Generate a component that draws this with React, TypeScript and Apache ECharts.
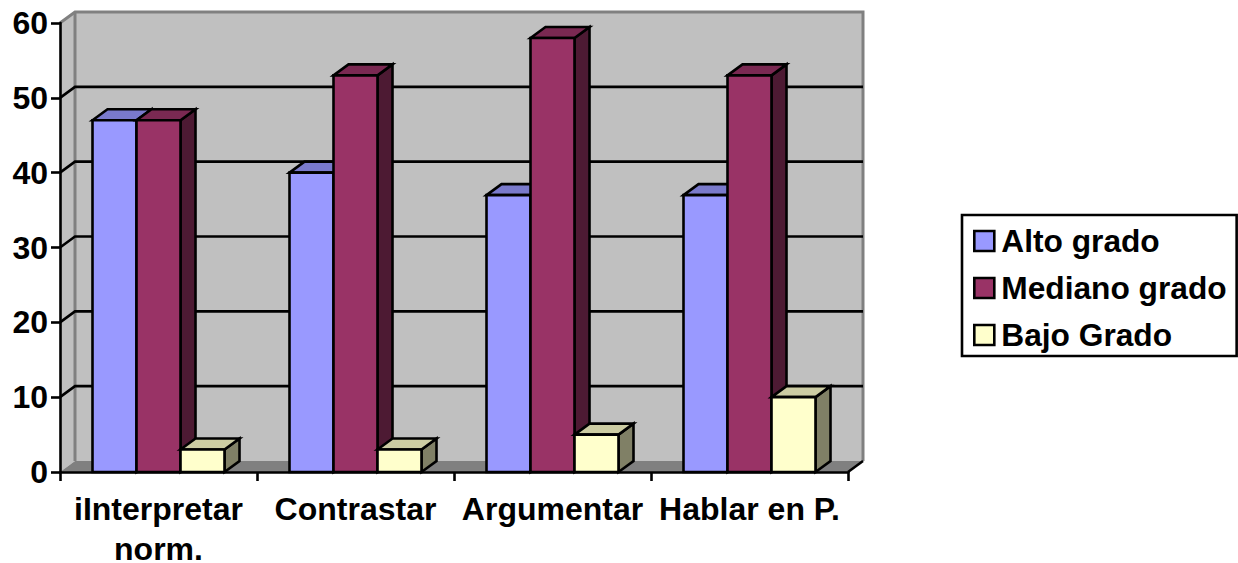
import React, { useEffect, useRef } from "react";
import * as echarts from "echarts";

const categories = ["iInterpretar\nnorm.", "Contrastar", "Argumentar", "Hablar en P."];
const altoGrado = [47, 40, 37, 37];
const medianoGrado = [47, 53, 58, 53];
const bajoGrado = [3, 3, 5, 10];
const gridValues = [10, 20, 30, 40, 50, 60];

const FONT = '"Liberation Sans", Arial, sans-serif';
const DX = 15;
const DY = 11;
const BAR_RATIO = 44 / 197;
const LW = 2.6;
const LABEL_FONT = { fontFamily: FONT, fontSize: 32, fontWeight: "bold", color: "#000" };

const seriesDefs = [
  { name: "Alto grado", values: altoGrado, front: "#9999ff", top: "#7a7acc", side: "#4d4d80" },
  { name: "Mediano grado", values: medianoGrado, front: "#993366", top: "#7a2952", side: "#4d1a33" },
  { name: "Bajo Grado", values: bajoGrado, front: "#ffffcc", top: "#cccca3", side: "#808066" },
];

function barSeries(def: (typeof seriesDefs)[number], index: number) {
  return {
    name: def.name,
    type: "custom",
    z: 4,
    clip: false,
    itemStyle: { color: def.front, borderColor: "#000", borderWidth: 2 },
    encode: { x: 0, y: 1 },
    data: def.values.map((v, i) => [i, v]),
    renderItem: (_: any, api: any) => {
      const center = api.coord([api.value(0), api.value(1)]);
      const base = api.coord([api.value(0), 0]);
      const w = api.size([1, 0])[0] * BAR_RATIO;
      const x0 = center[0] + (index - 1.5) * w;
      const x1 = x0 + w;
      const yt = center[1];
      const yb = base[1];
      const line = { stroke: "#000", lineWidth: LW, lineJoin: "miter" };
      return {
        type: "group",
        children: [
          {
            type: "polygon",
            shape: { points: [[x1, yb], [x1 + DX, yb - DY], [x1 + DX, yt - DY], [x1, yt]] },
            style: { fill: def.side, ...line },
          },
          {
            type: "polygon",
            shape: { points: [[x0, yt], [x0 + DX, yt - DY], [x1 + DX, yt - DY], [x1, yt]] },
            style: { fill: def.top, ...line },
          },
          {
            type: "rect",
            shape: { x: x0, y: yt, width: w, height: yb - yt },
            style: { fill: def.front, ...line },
          },
        ],
      };
    },
  };
}

const wallSeries = {
  name: "walls",
  type: "custom",
  z: 1,
  silent: true,
  clip: false,
  encode: { x: 0, y: 1 },
  data: [[0, 0]],
  renderItem: (params: any) => {
    const { x, y, width, height } = params.coordSys;
    const b = y + height;
    const r = x + width;
    const gray = { stroke: "#808080", lineWidth: 3 };
    return {
      type: "group",
      children: [
        {
          type: "polygon",
          shape: { points: [[x, y], [x + DX, y - DY], [r + DX, y - DY], [r + DX, b - DY], [x + DX, b - DY], [x, b]] },
          style: { fill: "#c0c0c0" },
        },
        {
          type: "polygon",
          shape: { points: [[x, b], [x + DX, b - DY], [r + DX, b - DY], [r, b]] },
          style: { fill: "#808080" },
        },
        {
          type: "polyline",
          shape: { points: [[x, y], [x + DX, y - DY], [r + DX, y - DY], [r + DX, b - DY]] },
          style: { fill: "none", ...gray },
        },
        {
          type: "line",
          shape: { x1: x + DX, y1: y - DY, x2: x + DX, y2: b - DY },
          style: gray,
        },
        {
          type: "line",
          shape: { x1: r, y1: b, x2: r + DX, y2: b - DY },
          style: { stroke: "#000", lineWidth: LW },
        },
      ],
    };
  },
};

const gridSeries = {
  name: "gridlines",
  type: "custom",
  z: 2,
  silent: true,
  clip: false,
  encode: { x: 0, y: 1 },
  data: gridValues.slice(0, -1).map((v) => [0, v]),
  renderItem: (params: any, api: any) => {
    const { x, width } = params.coordSys;
    const y = api.coord([0, api.value(1)])[1];
    return {
      type: "polyline",
      shape: { points: [[x, y], [x + DX, y - DY], [x + width + DX, y - DY]] },
      style: { fill: "none", stroke: "#000", lineWidth: LW },
    };
  },
};

export default function App() {
  const ref = useRef<HTMLDivElement>(null);
  useEffect(() => {
    document.body.style.margin = "0";
    const chart = echarts.init(ref.current!, undefined, { renderer: "svg" });
    chart.setOption({
      animation: false,
      backgroundColor: "#fff",
      textStyle: { fontFamily: FONT },
      grid: { left: 60, top: 23, width: 788, height: 449, containLabel: false, outerBoundsMode: "none" },
      legend: {
        left: 962,
        top: 215,
        orient: "vertical",
        backgroundColor: "#fff",
        borderColor: "#000",
        borderWidth: 2.6,
        padding: [10, 10, 5, 11],
        itemWidth: 20,
        itemHeight: 20,
        itemGap: 15,
        selectedMode: false,
        textStyle: { ...LABEL_FONT, fontSize: 31.7, padding: [0, 0, 0, 2] },
        data: seriesDefs.map((d) => ({
          name: d.name,
          icon: "rect",
          itemStyle: { color: d.front, borderColor: "#000", borderWidth: 2.6 },
        })),
      },
      xAxis: {
        type: "category",
        data: categories,
        z: 5,
        axisLine: { show: true, lineStyle: { color: "#000", width: LW } },
        axisTick: { show: true, length: 9, alignWithLabel: false, lineStyle: { color: "#000", width: LW } },
        axisLabel: {
          interval: 0,
          margin: 11,
          ...LABEL_FONT,
          formatter: (value: string) => {
            const [first, second] = value.split("\n");
            return second ? `{a|${first}}\n{b|${second}}` : `{a|${first}}`;
          },
          rich: {
            a: { ...LABEL_FONT, lineHeight: 52 },
            b: { ...LABEL_FONT, lineHeight: 28 },
          },
        },
        splitLine: { show: false },
      },
      yAxis: {
        type: "value",
        min: 0,
        max: 60,
        interval: 10,
        z: 5,
        axisLine: { show: true, lineStyle: { color: "#000", width: LW } },
        axisTick: { show: true, length: 9, lineStyle: { color: "#000", width: LW } },
        axisLabel: { margin: 12, ...LABEL_FONT },
        splitLine: { show: false },
      },
      series: [wallSeries, gridSeries, ...seriesDefs.map(barSeries)],
    });
    return () => chart.dispose();
  }, []);
  return <div ref={ref} style={{ width: 1238, height: 563 }} />;
}
